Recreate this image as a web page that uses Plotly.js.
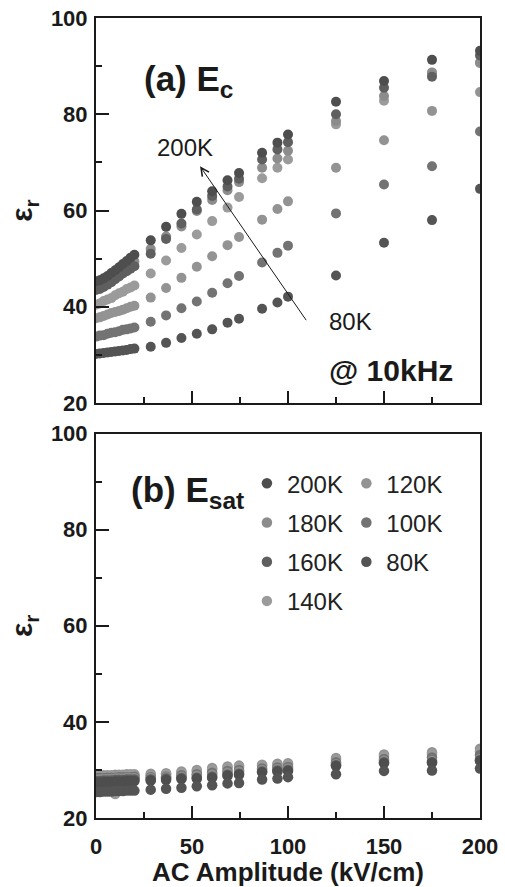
<!DOCTYPE html>
<html><head><meta charset="utf-8">
<script src="https://cdn.plot.ly/plotly-3.0.1.min.js"></script>
<style>html,body{margin:0;padding:0;background:#fff}#chart{width:505px;height:887px}</style>
</head><body><div id="chart"></div><script>
// AC amplitude (kV/cm) at which permittivity was measured
const fieldX = [0,2,4,6,8,10,12,14,16,18,20,28.5,36.5,44.5,52.5,60.5,68.5,74.5,86.5,94.5,100,125,150,175,200];

const temps = ['200K','180K','160K','140K','120K','100K','80K'];
const colors = ['#4e4e4e','#8c8c8c','#5f5f5f','#9b9b9b','#939393','#737373','#545454'];

// (a) permittivity at Ec
const ec200 = [45.3,45.5,45.9,46.4,47.0,47.6,48.2,48.9,49.5,50.2,50.8,53.8,56.6,59.3,61.8,64.0,66.3,67.8,72.0,74.1,75.8,82.6,86.9,91.3,93.2];
const ec180 = [44.4,44.6,45.0,45.5,46.0,46.6,47.2,47.8,48.3,48.9,49.4,52.0,54.6,56.7,59.9,62.2,64.2,65.9,68.9,70.8,72.4,78.6,83.8,88.7,90.8];
const ec160 = [43.5,43.7,44.1,44.6,45.1,45.7,46.3,46.9,47.4,47.9,48.4,51.0,54.1,57.3,60.2,63.0,65.0,66.6,70.6,72.7,74.2,80.0,85.5,87.8,92.2];
const ec140 = [40.4,40.7,41.2,41.5,41.8,42.4,42.8,43.1,43.7,44.0,44.4,46.9,49.6,52.2,55.0,57.8,60.6,62.8,66.7,68.9,70.6,77.9,82.8,88.4,90.6];
const ec120 = [37.6,37.8,38.1,38.4,38.7,38.9,39.1,39.4,39.7,40.0,40.2,41.9,43.9,46.0,48.3,50.5,52.8,54.5,58.1,60.3,61.9,68.9,74.6,80.7,84.6];
const ec100 = [33.8,34.0,34.1,34.4,34.6,34.7,34.9,35.2,35.3,35.5,35.7,36.9,38.2,39.7,41.1,42.9,44.9,46.4,49.2,51.2,52.7,59.4,65.4,69.2,76.4];
const ec80  = [30.2,30.3,30.4,30.5,30.6,30.7,30.8,30.9,31.0,31.2,31.3,31.7,32.5,33.5,34.4,35.3,36.7,37.5,39.6,40.9,42.1,46.5,53.3,58.0,64.5];

// (b) permittivity at Esat
const es200 = [27.4,27.4,27.5,27.5,27.5,27.6,27.6,27.6,27.7,27.7,27.7,27.8,27.9,28.1,28.2,28.4,28.8,29.0,29.5,29.7,29.8,30.8,31.4,31.5,31.9];
const es180 = [28.0,28.0,28.1,28.1,28.1,28.2,28.2,28.2,28.3,28.3,28.3,28.3,28.5,28.6,28.8,29.0,29.4,29.6,30.0,30.2,30.3,31.2,31.9,31.9,32.3];
const es160 = [27.7,27.7,27.8,27.8,27.8,27.9,27.9,27.9,28.0,28.0,28.0,28.0,28.2,28.3,28.4,28.6,29.0,29.2,29.7,29.9,30.0,31.0,31.6,31.6,32.0];
const es140 = [28.6,28.6,28.6,28.7,28.7,25.0,28.8,28.8,28.8,28.9,28.9,28.9,29.1,29.4,29.7,30.1,30.4,30.6,30.9,31.0,31.1,32.1,32.8,33.2,33.9];
const es120 = [28.8,28.8,28.9,28.9,28.9,29.0,29.0,29.0,29.1,29.1,29.1,29.2,29.3,29.7,30.0,30.4,30.7,30.9,31.1,31.3,31.4,32.5,33.2,33.7,34.4];
const es100 = [28.3,28.3,28.3,28.4,28.4,28.4,28.5,28.5,28.5,28.5,28.6,28.5,28.6,28.9,29.1,29.4,29.8,30.0,30.3,30.5,30.6,31.6,32.3,32.6,33.1];
const es80  = [25.4,25.4,25.5,25.5,25.5,25.6,25.6,25.6,25.7,25.7,25.7,25.9,26.1,26.3,26.6,26.8,27.2,27.3,28.0,28.2,28.5,29.1,29.8,29.9,30.3];

const ecSeries = [ec200,ec180,ec160,ec140,ec120,ec100,ec80];
const esSeries = [es200,es180,es160,es140,es120,es100,es80];
// drawing order (later = on top)
const drawOrder = [4,3,5,1,2,0,6];

const FONT = 'Liberation Sans, Arial, sans-serif';
const traces = [];
drawOrder.forEach(i => {
  traces.push({
    type:'scatter', mode:'markers', x:fieldX, y:ecSeries[i], xaxis:'x', yaxis:'y',
    name:temps[i], legendgroup:temps[i], showlegend:false,
    marker:{size:10, color:colors[i]}, hoverinfo:'skip'
  });
});
drawOrder.forEach(i => {
  traces.push({
    type:'scatter', mode:'markers', x:fieldX, y:esSeries[i], xaxis:'x2', yaxis:'y2',
    name:temps[i], legendgroup:temps[i], showlegend:true, legendrank:i+1,
    legend: i < 4 ? 'legend' : 'legend2',
    marker:{size:10.5, color:colors[i]}, hoverinfo:'skip'
  });
});

const axCommon = {
  showline:true, linecolor:'#1a1a1a', linewidth:2, mirror:true,
  ticks:'inside', tickcolor:'#1a1a1a', tickwidth:2, showgrid:false, zeroline:false,
  tickfont:{family:FONT, size:22, color:'#1a1a1a', weight:'bold'}
};
const xCommon = Object.assign({}, axCommon, {
  range:[0,200], dtick:50, tick0:0, ticklen:12,
  minor:{dtick:25, ticklen:6, ticks:'inside', tickcolor:'#1a1a1a', tickwidth:2, showgrid:false}
});
const yCommon = Object.assign({}, axCommon, {
  range:[20,100], dtick:20, tick0:20, ticklen:13, ticklabelstandoff:2,
  minor:{dtick:10, ticklen:6, ticks:'inside', tickcolor:'#1a1a1a', tickwidth:2, showgrid:false},
  title:{text:'ε<sub>r</sub>', font:{family:FONT, size:30, color:'#1a1a1a', weight:'bold'}, standoff:9}
});

const legCommon = {
  font:{family:FONT, size:24, color:'#222'}, bgcolor:'rgba(0,0,0,0)', borderwidth:0,
  tracegroupgap:5, itemwidth:30, xanchor:'left', yanchor:'top', orientation:'v'
};

const layout = {
  width:505, height:887,
  margin:{l:96, r:25, t:18, b:69},
  paper_bgcolor:'#fff', plot_bgcolor:'#fff',
  font:{family:FONT, color:'#1a1a1a'},
  xaxis: Object.assign({}, xCommon, {domain:[0,1], anchor:'y', showticklabels:false}),
  yaxis: Object.assign({}, yCommon, {domain:[0.51875,1], anchor:'x'}),
  xaxis2: Object.assign({}, xCommon, {domain:[0,1], anchor:'y2', ticklabelstandoff:8,
    title:{text:'AC Amplitude (kV/cm)', font:{family:FONT, size:26, color:'#1a1a1a', weight:'bold'}, standoff:4}}),
  yaxis2: Object.assign({}, yCommon, {domain:[0,0.4806], anchor:'x2'}),
  legend: Object.assign({}, legCommon, {x:0.393, y:0.446}),
  legend2: Object.assign({}, legCommon, {x:0.652, y:0.446}),
  showlegend:true,
  annotations:[
    {xref:'x', yref:'y', x:24.0, y:87.0, xanchor:'left', yanchor:'middle', showarrow:false,
     text:'(a) E<sub>c</sub>', font:{family:FONT, size:35, color:'#1a1a1a', weight:'bold'}},
    {xref:'x', yref:'y', x:153.6, y:26.7, xanchor:'center', yanchor:'middle', showarrow:false,
     text:'@ 10kHz', font:{family:FONT, size:30, color:'#1a1a1a', weight:'bold'}},
    {xref:'x', yref:'y', x:46.4, y:73.1, xanchor:'center', yanchor:'middle', showarrow:false,
     text:'200K', font:{family:FONT, size:24, color:'#1a1a1a'}},
    {xref:'x', yref:'y', x:132.3, y:36.9, xanchor:'center', yanchor:'middle', showarrow:false,
     text:'80K', font:{family:FONT, size:24, color:'#1a1a1a'}},
    {xref:'x', yref:'y', x:54.2, y:69.2, axref:'x', ayref:'y', ax:110, ay:36.9,
     showarrow:true, arrowhead:5, arrowsize:1.6, arrowwidth:1, arrowcolor:'#1a1a1a', text:''},
    {xref:'x2', yref:'y2', x:17.2, y:87.8, xanchor:'left', yanchor:'middle', showarrow:false,
     text:'(b) E<sub>sat</sub>', font:{family:FONT, size:35, color:'#1a1a1a', weight:'bold'}}
  ]
};

Plotly.newPlot('chart', traces, layout, {staticPlot:true, displayModeBar:false});
</script></body></html>
